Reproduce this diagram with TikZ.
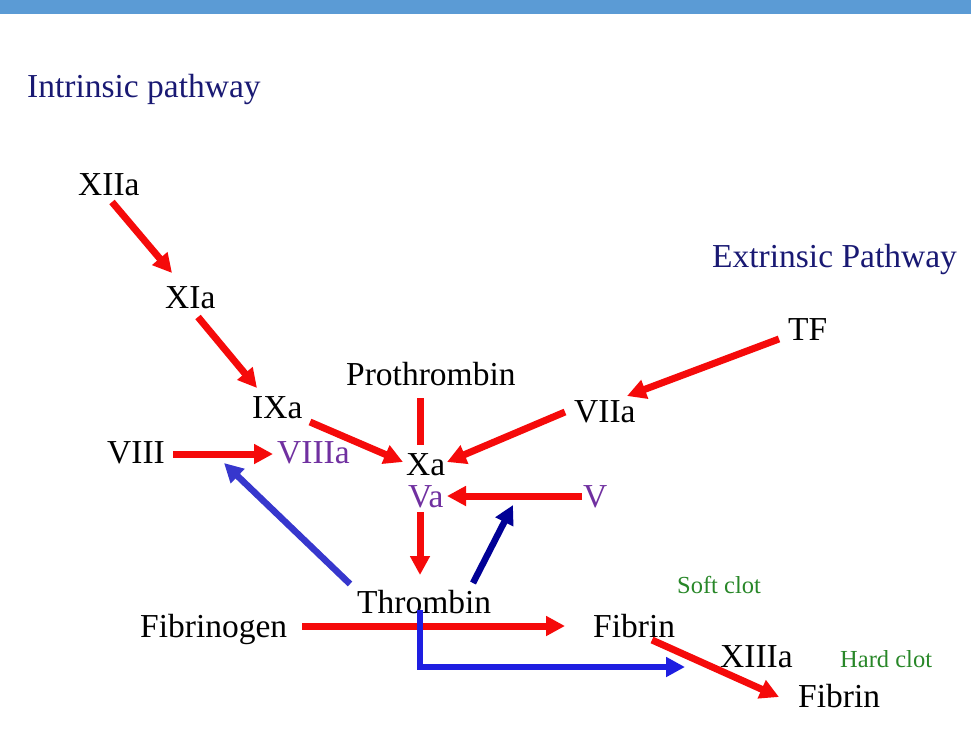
\documentclass[tikz,border=0pt]{standalone}
\usepackage{fontspec}
\setmainfont{Liberation Serif}
\usetikzlibrary{arrows.meta,calc}
\definecolor{topbar}{RGB}{91,155,213}
\definecolor{navytxt}{RGB}{25,25,115}
\definecolor{purp}{RGB}{112,48,160}
\definecolor{grn}{RGB}{40,135,40}
\definecolor{rd}{RGB}{245,10,10}
\definecolor{blA}{RGB}{55,55,205}
\definecolor{blB}{RGB}{30,30,225}
\definecolor{blD}{RGB}{0,0,150}
\tikzset{
  lbl/.style={inner sep=0pt, anchor=base west, font=\fontsize{33.5}{36}\selectfont},
  small/.style={inner sep=0pt, anchor=base west, font=\fontsize{24.5}{28}\selectfont, text=grn},
  ra/.style={draw=rd, line width=7pt, -{Triangle[length=19pt,width=19pt]}},
  rl/.style={draw=rd, line width=7pt},
  ba/.style={draw=blA, line width=6.5pt, -{Triangle[length=19pt,width=19pt]}},
  bb/.style={draw=blB, line width=6.5pt, -{Triangle[length=19pt,width=19pt]}},
  bd/.style={draw=blD, line width=6.5pt, -{Triangle[length=19pt,width=19pt]}}
}
\begin{document}
\begin{tikzpicture}[x=1pt,y=-1pt]
\useasboundingbox (0,0) rectangle (971,734);
\fill[topbar] (0,0) rectangle (971,14);
% labels
\node[lbl, text=navytxt] (intr) at (27,97) {Intrinsic pathway};
\node[lbl, text=navytxt] (extr) at (712,267) {Extrinsic Pathway};
\node[lbl] (xiia) at (78,195) {XIIa};
\node[lbl] (xia) at (165,308) {XIa};
\node[lbl] (ixa) at (252,418) {IXa};
\node[lbl] (viii) at (107,463) {VIII};
\node[lbl, text=purp] (viiia) at (277,463) {VIIIa};
\node[lbl] (proth) at (346,385) {Prothrombin};
\node[lbl] (xa) at (406,475) {Xa};
\node[lbl, text=purp] (va) at (408,507) {Va};
\node[lbl, text=purp] (v) at (583,507) {V};
\node[lbl] (viia) at (574,422) {VIIa};
\node[lbl] (tf) at (788,340) {TF};
\node[lbl] (thr) at (357,613) {Thrombin};
\node[lbl] (fibg) at (140,637) {Fibrinogen};
\node[lbl] (fib1) at (593,637) {Fibrin};
\node[small] (soft) at (677,593) {Soft clot};
\node[lbl] (xiiia) at (720,667) {XIIIa};
\node[small] (hard) at (840,667) {Hard clot};
\node[lbl] (fib2) at (798,707) {Fibrin};
% connectors
\draw[ra] ($(xiia.base west)+(34,7)$) -- ($(xia.base west)+(7,-35)$);
\draw[ra] ($(xia.base west)+(33,9)$) -- ($(ixa.base west)+(5,-30)$);
\draw[ra] ($(viii.base west)+(66,-9)$) -- ($(viiia.base west)+(-4,-9)$);
\draw[ra] ($(ixa.base west)+(58,4)$) -- ($(xa.base west)+(-3,-13)$);
\draw[rl] ($(proth.base west)+(74,13)$) -- ($(xa.base west)+(14,-30)$);
\draw[ra] ($(viia.base west)+(-9,-10)$) -- ($(xa.base west)+(41,-13)$);
\draw[ra] ($(tf.base west)+(-9,-1)$) -- ($(viia.base west)+(53,-26)$);
\draw[ra] ($(v.base west)+(-1,-11)$) -- ($(va.base west)+(39,-11)$);
\draw[ra] ($(va.base west)+(12,5)$) -- ($(thr.base west)+(63,-38)$);
\draw[ba] ($(thr.base west)+(-7,-29)$) -- ($(viiia.base west)+(-53,0)$);
\draw[bd] ($(thr.base west)+(116,-30)$) -- ($(va.base west)+(105,-2)$);
\draw[ra] ($(fibg.base west)+(162,-11)$) -- ($(fib1.base west)+(-28,-11)$);
\draw[bb] ($(thr.base west)+(63,-3)$) |- ($(xiiia.base west)+(-35,0)$);
\draw[ra] ($(fib1.base west)+(59,3)$) -- ($(fib2.base west)+(-19,-10)$);
\end{tikzpicture}
\end{document}
